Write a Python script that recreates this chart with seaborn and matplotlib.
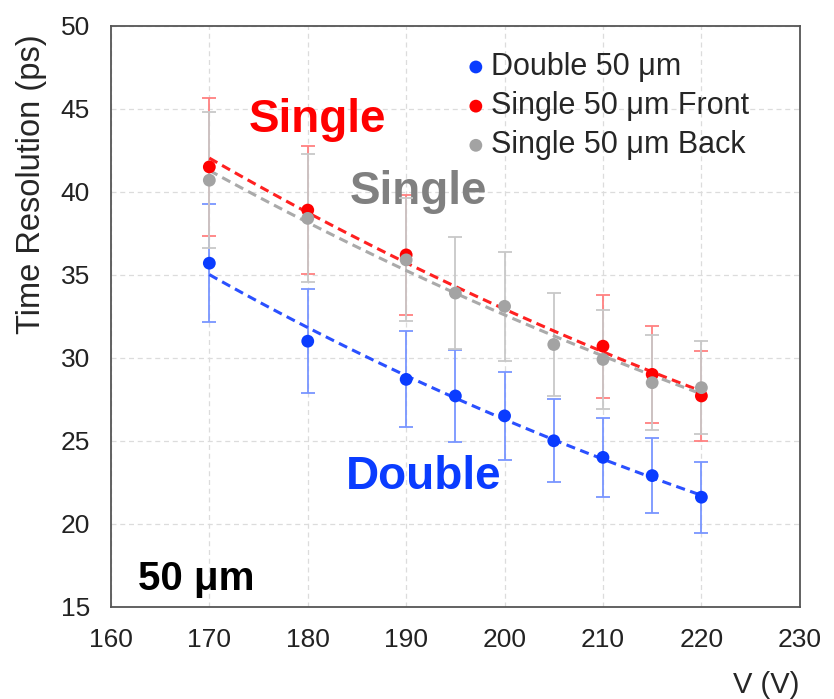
"""
Time resolution vs bias voltage for 50 um double / single sensors.
"""

import matplotlib.pyplot as plt
import numpy as np
import pandas as pd
import seaborn as sns

# Double 50 um
v_double = [170, 180, 190, 195, 200, 205, 210, 215, 220]
res_double = [35.7, 31.0, 28.7, 27.7, 26.5, 25.0, 24.0, 22.9, 21.6]
err_double = [3.55, 3.15, 2.9, 2.75, 2.65, 2.5, 2.4, 2.25, 2.15]

# Single 50 um Front
v_front = [170, 180, 190, 210, 215, 220]
res_front = [41.5, 38.9, 36.2, 30.7, 29.0, 27.7]
err_front = [4.15, 3.85, 3.6, 3.1, 2.9, 2.7]

# Single 50 um Back
v_back = [170, 180, 190, 195, 200, 205, 210, 215, 220]
res_back = [40.7, 38.4, 35.9, 33.9, 33.1, 30.8, 29.9, 28.5, 28.2]
err_back = [4.1, 3.85, 3.7, 3.4, 3.3, 3.1, 3.0, 2.85, 2.8]

x_ticks = [160, 170, 180, 190, 200, 210, 220, 230]
y_ticks = [15, 20, 25, 30, 35, 40, 45, 50]

sns.set_theme(style="white")
plt.rcParams["font.family"] = ["Liberation Sans", "DejaVu Sans"]

# series: label, x, y, err, point colour, errbar colour, fit colour
series = [
    ("Double 50 μm", v_double, res_double, err_double, "#0a3cff", "#7895ff", "#2a50ff"),
    ("Single 50 μm Front", v_front, res_front, err_front, "#ff0000", "#ff8080", "#ff2020"),
    ("Single 50 μm Back", v_back, res_back, err_back, "#a3a3a3", "#c8c8c8", "#aaaaaa"),
]

fig = plt.figure(figsize=(8.34, 6.99), dpi=100)
ax = fig.add_axes([0.133, 0.132, 0.826, 0.831])

for z, (label, xs, ys, errs, c_pt, c_err, c_fit) in enumerate(series):
    df = pd.DataFrame({"V": xs, "res": ys, "err": errs})
    ax.errorbar(
        df["V"], df["res"], yerr=df["err"], fmt="none",
        ecolor=c_err, elinewidth=1.3, capsize=5, capthick=1.3, zorder=2 + z,
    )
    # exponential trendline through the points
    k, b = np.polyfit(df["V"], np.log(df["res"]), 1)
    xf = np.linspace(min(xs), max(xs), 100)
    sns.lineplot(
        x=xf, y=np.exp(b + k * xf), ax=ax, color=c_fit, lw=2.2,
        linestyle=(0, (3, 1.8)), zorder=5, legend=False,
    )
    sns.scatterplot(
        data=df, x="V", y="res", ax=ax, color=c_pt, s=85,
        edgecolor="none", label=label, zorder=6 + z,
    )

ax.text(181.0, 44.3, "Single", color="#ff0000", fontsize=33, fontweight="bold",
        ha="center", va="center")
ax.text(191.3, 40.0, "Single", color="#808080", fontsize=33, fontweight="bold",
        ha="center", va="center")
ax.text(191.8, 22.8, "Double", color="#0a3cff", fontsize=33, fontweight="bold",
        ha="center", va="center")
ax.text(162.8, 16.7, "50 μm", color="black", fontsize=29, fontweight="bold",
        ha="left", va="center")

ax.set_xlim(160, 230)
ax.set_ylim(15, 50)
ax.set_xticks(x_ticks)
ax.set_yticks(y_ticks)
ax.tick_params(labelsize=19, colors="#222222", length=0)
ax.tick_params(axis="x", pad=15)
ax.tick_params(axis="y", pad=15)
ax.grid(True, linestyle=(0, (4, 3)), color="#dcdcdc", lw=0.9)
for sp in ax.spines.values():
    sp.set_visible(True)
    sp.set_color("#555555")
    sp.set_linewidth(1.3)

ax.set_xlabel("V (V)", fontsize=21, loc="right", labelpad=14)
ax.set_ylabel("Time Resolution (ps)", fontsize=23.5, loc="top")
ax.yaxis.set_label_coords(-0.093, 0.985)

ax.legend(
    loc="upper left", bbox_to_anchor=(0.512, 0.955), frameon=False, fontsize=22,
    handlelength=0.8, handletextpad=0.1, labelspacing=0.3, markerscale=1.0,
    borderaxespad=0, borderpad=0,
)

plt.savefig("out.png", dpi=100)
plt.close()
